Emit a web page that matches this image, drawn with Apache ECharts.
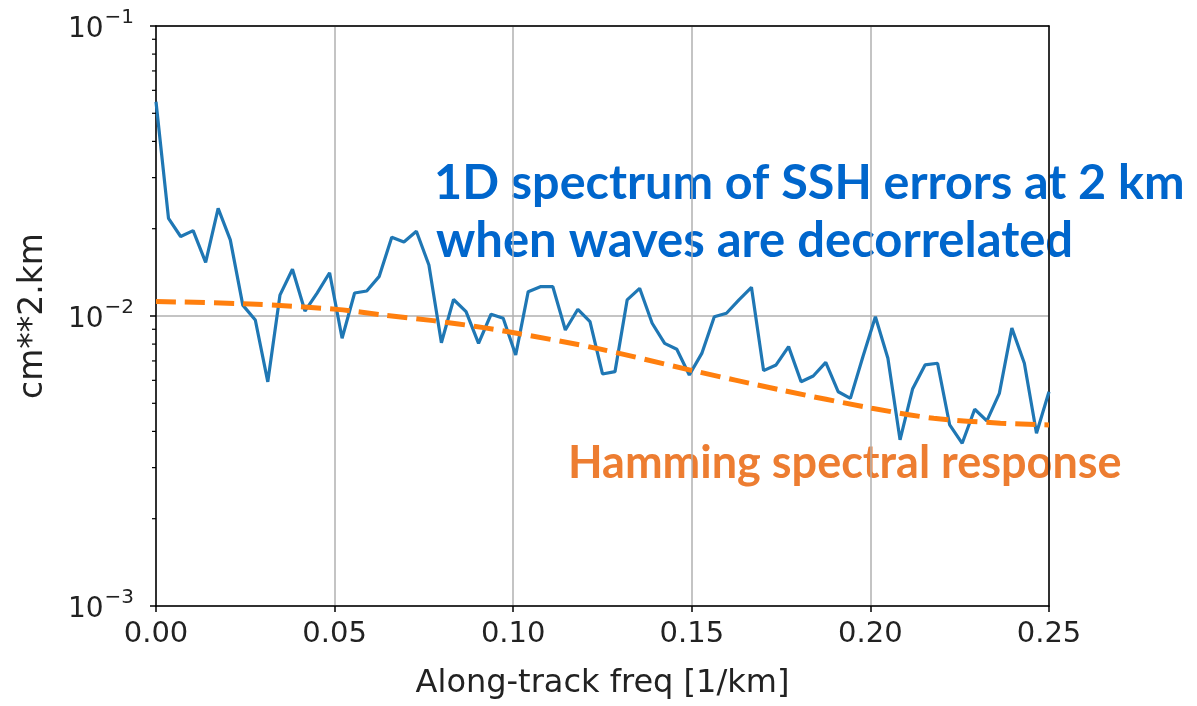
<!DOCTYPE html>
<html>
<head>
<meta charset="utf-8">
<script src="https://cdn.jsdelivr.net/npm/echarts@6/dist/echarts.min.js"></script>
<style>
  html, body { margin: 0; padding: 0; background: #fff; }
  #chart { width: 1197px; height: 706px; }
</style>
</head>
<body>
<div id="chart"></div>
<script>
// ---- data ----
const freq = [0, 0.0035, 0.0069, 0.0104, 0.0139, 0.0174, 0.0208, 0.0243, 0.0278, 0.0313,
  0.0347, 0.0382, 0.0417, 0.0451, 0.0486, 0.0521, 0.0556, 0.0590, 0.0625, 0.0660,
  0.0694, 0.0729, 0.0764, 0.0799, 0.0833, 0.0868, 0.0903, 0.0938, 0.0972, 0.1007,
  0.1042, 0.1076, 0.1111, 0.1146, 0.1181, 0.1215, 0.1250, 0.1285, 0.1319, 0.1354,
  0.1389, 0.1424, 0.1458, 0.1493, 0.1528, 0.1563, 0.1597, 0.1632, 0.1667, 0.1701,
  0.1736, 0.1771, 0.1806, 0.1840, 0.1875, 0.1910, 0.1944, 0.1979, 0.2014, 0.2049,
  0.2083, 0.2118, 0.2153, 0.2188, 0.2222, 0.2257, 0.2292, 0.2326, 0.2361, 0.2396,
  0.2431, 0.2465, 0.2500];
const spectrum = [0.0548, 0.0217, 0.0188, 0.0197, 0.0153, 0.0235, 0.0183, 0.0109, 0.00969, 0.00593,
  0.0118, 0.0145, 0.0104, 0.0120, 0.0141, 0.00838, 0.0120, 0.0122, 0.0137, 0.0187,
  0.0180, 0.0196, 0.0150, 0.00809, 0.0114, 0.01035, 0.00805, 0.01014, 0.00982, 0.00734,
  0.01213, 0.01262, 0.01262, 0.00895, 0.01055, 0.00956, 0.00631, 0.00643, 0.01136, 0.01246,
  0.00944, 0.00805, 0.00768, 0.00626, 0.00743, 0.00994, 0.01022, 0.01136, 0.01256, 0.00648,
  0.00678, 0.00784, 0.00593, 0.00621, 0.00692, 0.00548, 0.00520, 0.00724, 0.00994, 0.00715,
  0.00374, 0.00560, 0.00678, 0.00687, 0.00421, 0.00364, 0.00477, 0.00435, 0.00541, 0.00908,
  0.00687, 0.00394, 0.00548];
const hammingFreq = [0, 0.0264, 0.0507, 0.0636, 0.0776, 0.0917, 0.1010, 0.1235, 0.1496, 0.1748, 0.2004, 0.2177, 0.2364, 0.25];
const hammingVal  = [0.01122, 0.01100, 0.01054, 0.01008, 0.00964, 0.00912, 0.00872, 0.00773, 0.00651, 0.00556, 0.00481, 0.00444, 0.00427, 0.00421];
const minorTickValues = [0.002, 0.003, 0.004, 0.005, 0.006, 0.007, 0.008, 0.009,
  0.02, 0.03, 0.04, 0.05, 0.06, 0.07, 0.08, 0.09];
const xTicks = { min: 0, max: 0.25, interval: 0.05 };
const yRange = { min: 0.001, max: 0.1 };
const xName = 'Along-track freq [1/km]';
const yName = 'cm**2.km';
const annotation1 = ['1D spectrum of SSH errors at 2 km', 'when waves are decorrelated'];
const annotation2 = 'Hamming spectral response';

const chart = echarts.init(document.getElementById('chart'), null, { renderer: 'canvas' });
const tickFont = 'DejaVu Sans';
const spine = { show: true, onZero: false, lineStyle: { color: '#000', width: 1.5 } };

const option = {
  animation: false,
  backgroundColor: '#fff',
  grid: { left: 156, right: 148, top: 26, bottom: 100 },
  xAxis: [{
    type: 'value', min: xTicks.min, max: xTicks.max, interval: xTicks.interval,
    name: xName, nameLocation: 'middle', nameGap: 62,
    nameTextStyle: { fontFamily: tickFont, fontSize: 32, color: '#222' },
    axisLine: spine,
    axisTick: { show: true, inside: false, length: 6, lineStyle: { color: '#000', width: 1.5 } },
    axisLabel: { fontFamily: tickFont, fontSize: 29, color: '#222', margin: 14, formatter: v => v.toFixed(2) },
    splitLine: { show: true, lineStyle: { color: '#b0b0b0', width: 1.5 } }
  }, {
    type: 'value', position: 'top', min: xTicks.min, max: xTicks.max,
    axisLine: spine, axisTick: { show: false }, axisLabel: { show: false }, splitLine: { show: false }
  }],
  yAxis: [{
    type: 'log', logBase: 10, min: yRange.min, max: yRange.max,
    name: yName, nameLocation: 'middle', nameGap: 106, nameRotate: 90,
    nameTextStyle: { fontFamily: tickFont, fontSize: 33, color: '#222' },
    axisLine: spine,
    axisTick: { show: true, inside: false, length: 6, lineStyle: { color: '#000', width: 1.5 } },
    axisLabel: {
      margin: 22,
      formatter: v => {
        const e = Math.round(Math.log10(v));
        return '{b|10}{s|\u2212' + (-e) + '}';
      },
      rich: {
        b: { fontFamily: tickFont, fontSize: 28, color: '#222', padding: [8, 0, 0, 0] },
        s: { fontFamily: tickFont, fontSize: 20, color: '#222', verticalAlign: 'top', padding: [0, 0, 12, 1] }
      }
    },
    splitLine: { show: true, lineStyle: { color: '#b0b0b0', width: 1.5 } }
  }, {
    type: 'log', logBase: 10, position: 'right', min: yRange.min, max: yRange.max,
    axisLine: spine, axisTick: { show: false }, axisLabel: { show: false }, splitLine: { show: false }
  }],
  series: [
    {
      type: 'custom', silent: true, clip: false, z: 5,
      data: minorTickValues.map(v => [xTicks.min, v]),
      renderItem: (params, api) => {
        const p = api.coord([api.value(0), api.value(1)]);
        return { type: 'line', shape: { x1: p[0] - 4, y1: p[1], x2: p[0], y2: p[1] },
          style: { stroke: '#000', lineWidth: 1.2 } };
      }
    },
    {
      type: 'line', name: 'spectrum', showSymbol: false, z: 3,
      data: freq.map((f, i) => [f, spectrum[i]]),
      lineStyle: { color: '#1f77b4', width: 3.2 }
    },
    {
      type: 'line', name: 'hamming', showSymbol: false, smooth: 0.3, z: 4,
      data: hammingFreq.map((f, i) => [f, hammingVal[i]]),
      lineStyle: { color: '#ff7f0e', width: 5, type: [20, 9] }
    }
  ],
  graphic: [
    { type: 'text', x: 434, y: 183, style: { text: annotation1[0], fill: '#0066cc', font: 'bold 48.5px Lato', textAlign: 'left', textVerticalAlign: 'middle' } },
    { type: 'text', x: 436, y: 241, style: { text: annotation1[1], fill: '#0066cc', font: 'bold 49px Lato', textAlign: 'left', textVerticalAlign: 'middle' } },
    { type: 'text', x: 568, y: 463, style: { text: annotation2, fill: '#ed7d31', font: 'bold 45px Lato', textAlign: 'left', textVerticalAlign: 'middle' } }
  ]
};
chart.setOption(option);
</script>
</body>
</html>
